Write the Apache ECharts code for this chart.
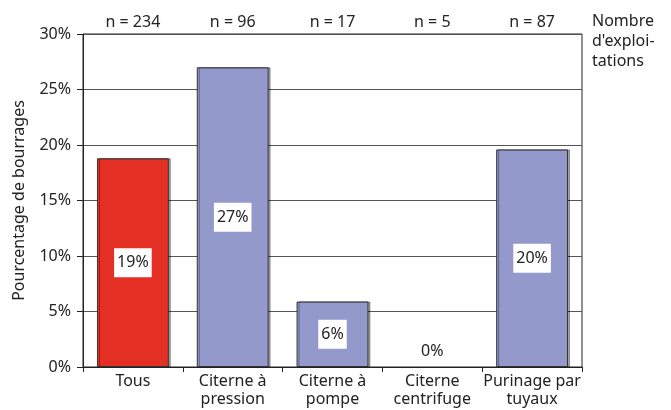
<!DOCTYPE html>
<html>
<head>
<meta charset="utf-8">
<script src="https://cdn.jsdelivr.net/npm/echarts@6/dist/echarts.min.js"></script>
<style>
  html, body { margin: 0; padding: 0; background: #fff; }
  #chart { width: 671px; height: 410px; }
</style>
</head>
<body>
<div id="chart"></div>
<script>
// Taux de bourrages selon le système d'épandage
const categories = ['Tous', 'Citerne à\npression', 'Citerne à\npompe', 'Citerne\ncentrifuge', 'Purinage par\ntuyaux'];
const values = [18.8, 27.0, 5.9, 0, 19.6];
const farmCounts = ['n = 234', 'n = 96', 'n = 17', 'n = 5', 'n = 87'];
const barColors = ['#e42f25', '#9499cb', '#9499cb', '#9499cb', '#9499cb'];
const yTicks = { min: 0, max: 30, interval: 5 };

const FONT = '"Noto Sans", sans-serif';
const TEXT = '#222';
const FS = 16;

const chart = echarts.init(document.getElementById('chart'), null, { renderer: 'canvas' });

const seriesData = values.map((v, i) => {
  const item = { value: v, itemStyle: { color: barColors[i] } };
  if (v === 0) {
    // empty bar: no outline, label sits just above the baseline
    item.itemStyle = { color: 'transparent', borderWidth: 0, shadowColor: 'transparent' };
    item.label = { position: 'top', distance: 8, backgroundColor: 'transparent', padding: 0 };
  }
  return item;
});

chart.setOption({
  animation: false,
  textStyle: { fontFamily: FONT },
  grid: {
    left: 83, right: 89, top: 34, bottom: 43,
    outerBoundsMode: 'none',
    containLabel: false,
    show: true, borderColor: '#222', borderWidth: 1, backgroundColor: 'transparent'
  },
  xAxis: [
    {
      type: 'category',
      data: categories,
      axisLine: { lineStyle: { color: '#222' } },
      axisTick: { show: true, alignWithLabel: false, length: 5, lineStyle: { color: '#222' } },
      axisLabel: { color: TEXT, fontSize: FS, lineHeight: 18, margin: 5, interval: 0, fontFamily: FONT }
    },
    {
      type: 'category',
      position: 'top',
      data: farmCounts,
      axisLine: { show: false },
      axisTick: { show: false },
      axisLabel: { color: TEXT, fontSize: FS, margin: 4, interval: 0, fontFamily: FONT }
    }
  ],
  yAxis: {
    type: 'value',
    min: yTicks.min, max: yTicks.max, interval: yTicks.interval,
    name: 'Pourcentage de bourrages',
    nameLocation: 'middle',
    nameGap: 56,
    nameTextStyle: { color: TEXT, fontSize: FS, fontFamily: FONT },
    axisLine: { show: true, lineStyle: { color: '#222' } },
    axisTick: { show: true, length: 6, lineStyle: { color: '#222' } },
    axisLabel: { color: TEXT, fontSize: FS, margin: 12, formatter: v => v + '%', fontFamily: FONT },
    splitLine: { show: true, lineStyle: { color: '#555', width: 1 } }
  },
  series: [{
    type: 'bar',
    xAxisIndex: 0,
    data: seriesData,
    barWidth: '72%',
    itemStyle: {
      borderColor: '#333', borderWidth: 1,
      shadowColor: 'rgba(0,0,0,0.35)', shadowOffsetX: 2, shadowOffsetY: 0, shadowBlur: 0
    },
    label: {
      show: true,
      position: 'inside',
      formatter: p => Math.round(p.value) + '%',
      color: TEXT,
      fontSize: FS,
      fontFamily: FONT,
      backgroundColor: '#fff',
      padding: [7, 3, 6, 3]
    }
  }],
  graphic: [{
    type: 'text',
    left: 592, top: 11,
    style: {
      text: "Nombre\nd'exploi-\ntations",
      fill: TEXT,
      font: FS + 'px ' + FONT,
      lineHeight: 20
    }
  }]
});
</script>
</body>
</html>
